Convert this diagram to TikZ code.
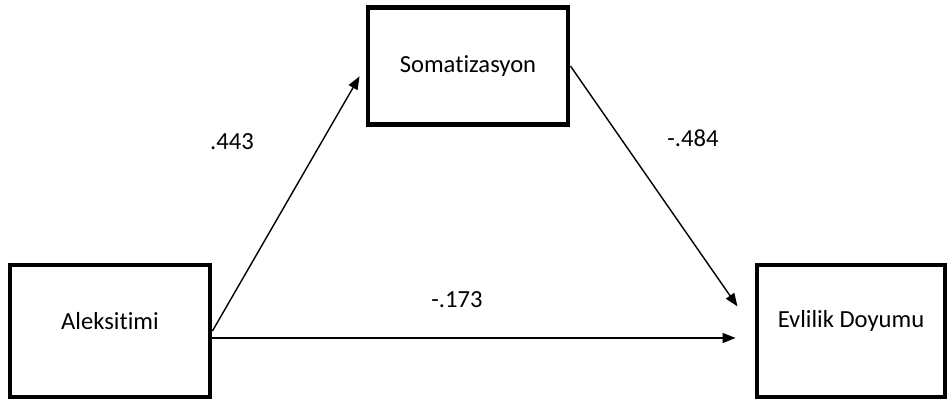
\documentclass[tikz,border=0pt]{standalone}
\usepackage{fontspec}
\setmainfont{Carlito}[Ligatures=NoCommon]
\usetikzlibrary{arrows.meta}

\begin{document}
\begin{tikzpicture}[x=0.02cm, y=-0.02cm,
  varbox/.style={draw, line width=2.8pt, minimum width=4cm, minimum height=2.64cm, font=\fontsize{14}{16}\selectfont},
  patharrow/.style={-{Triangle[length=0.26cm, width=0.2cm]}, line width=0.8pt},
  coef/.style={font=\fontsize{14}{16}\selectfont}]

% Fix the picture size
\useasboundingbox (0,0) rectangle (948,401);

% Draw the three variables
\node[varbox, minimum height=2.34cm] (som) at (468, 66) {Somatizasyon};
\node[varbox, text depth=0.42cm] (ale) at (110, 331) {Aleksitimi};
\node[varbox, text depth=0.48cm, minimum width=3.76cm] (evl) at (851, 331) {Evlilik Doyumu};

% Draw the paths
\draw[patharrow, shorten >=0.24cm] (ale.east) -- (som.west);
\draw[patharrow, shorten >=0.6cm] (som.east) -- (evl.west);
\draw[patharrow, shorten >=0.38cm] ([yshift=-0.14cm]ale.east) -- ([yshift=-0.14cm]evl.west);

% Path coefficients
\node[coef] (a) at (232, 142) {.443};
\node[coef] (b) at (693, 138) {-.484};
\node[coef] (c) at (457, 300) {-.173};

\end{tikzpicture}
\end{document}
